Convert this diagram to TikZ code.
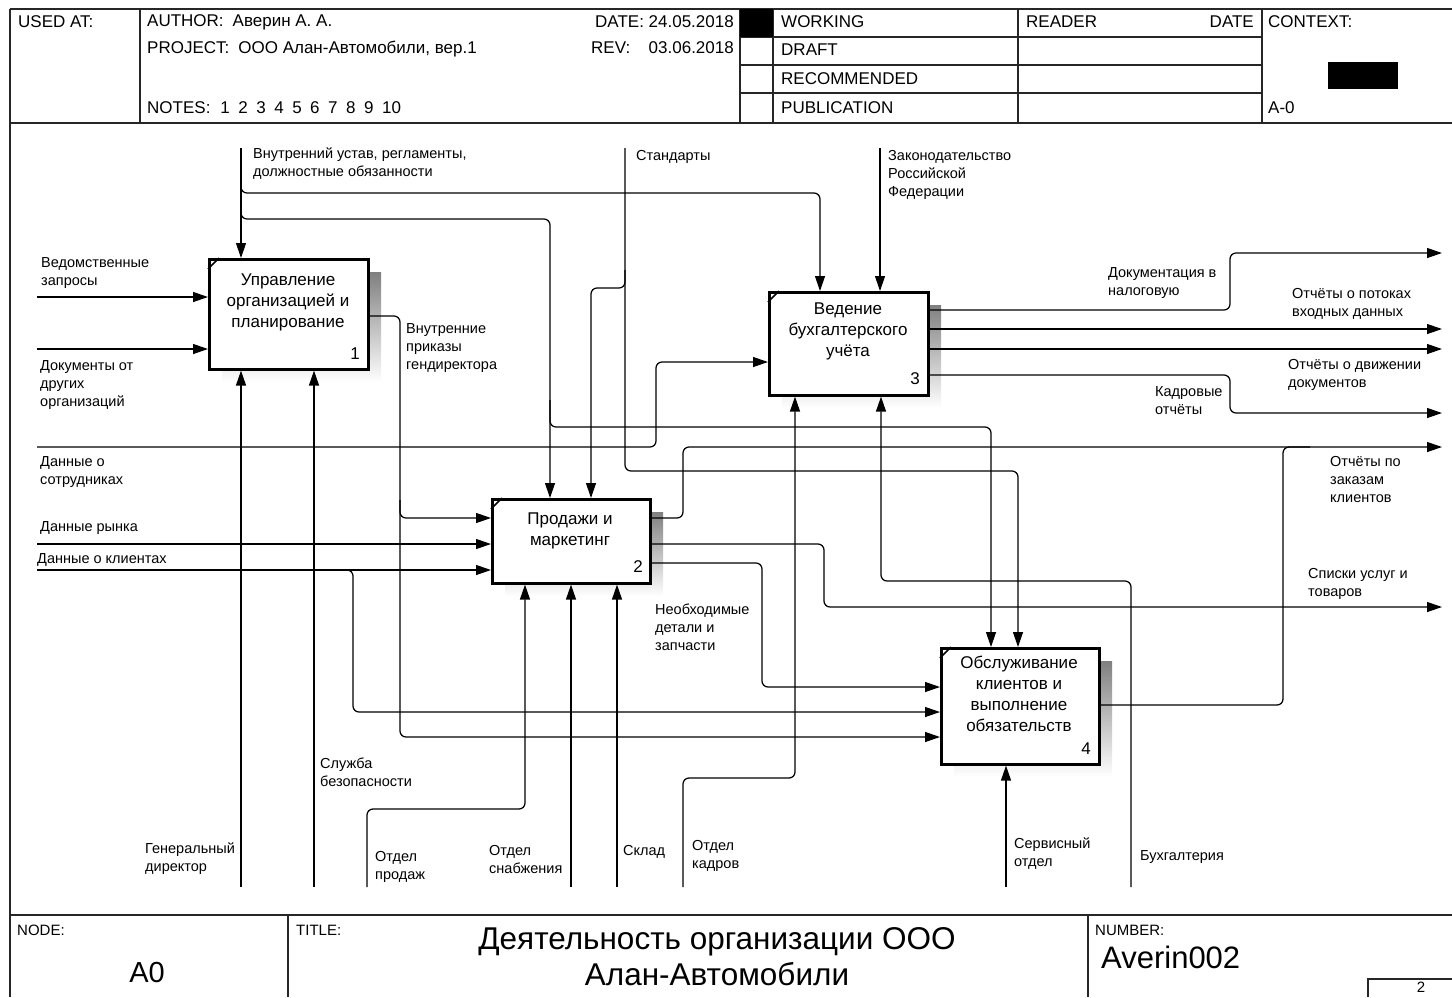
\documentclass[tikz,border=0pt]{standalone}
\usepackage{fontspec}
\setmainfont{Liberation Sans}
\usetikzlibrary{arrows.meta}
\definecolor{shade}{RGB}{206,203,195}
\begin{document}
\begin{tikzpicture}[x=1pt,y=-1pt,
  frame/.style={line width=1.8pt, draw=black!85},
  box/.style={draw, line width=2.6pt, fill=white, anchor=north west, inner sep=0pt},
  ln/.style={line width=1.25pt, rounded corners=6pt},
  arr/.style={ln, -{Triangle[length=15pt,width=10pt]}},
  lbl/.style={font=\fontsize{14.5}{18}\selectfont, align=left, inner sep=0pt, anchor=north west},
  btxt/.style={font=\fontsize{17}{21}\selectfont, align=center, inner sep=0pt, anchor=north},
  bnum/.style={font=\fontsize{17}{19}\selectfont, inner sep=0pt},
  hdr/.style={font=\fontsize{17}{20}\selectfont, inner sep=0pt, anchor=west},
  small/.style={font=\fontsize{15}{18}\selectfont, inner sep=0pt, anchor=west},
]
\useasboundingbox (0,0) rectangle (1452,997);

% ---------- frame ----------
\draw[frame] (10,9) -- (1452,9);
\draw[frame] (10,9) -- (10,997);
\draw[frame] (10,123) -- (1452,123);
\draw[frame] (140,9) -- (140,123);
\draw[frame] (740,9) -- (740,123);
\draw[frame] (773,9) -- (773,123);
\draw[frame] (1018,9) -- (1018,123);
\draw[frame] (1262,9) -- (1262,123);
\draw[frame] (740,37) -- (1262,37);
\draw[frame] (740,65) -- (1262,65);
\draw[frame] (740,93) -- (1262,93);
\fill (740,9) rectangle (773,37);
\fill (1328,62) rectangle (1398,89);

\node[hdr] (h1) at (18,22) {USED AT:};
\node[hdr] (h2) at (147,22) {AUTHOR:\hspace{9pt}Аверин А. А.};
\node[hdr] (h3) at (147,49) {PROJECT:\hspace{9pt}ООО Алан-Автомобили, вер.1};
\node[hdr] (h4) at (147,108) {NOTES:\hspace{10pt}1\hspace{8.5pt}2\hspace{8.5pt}3\hspace{8.5pt}4\hspace{8.5pt}5\hspace{8.5pt}6\hspace{8.5pt}7\hspace{8.5pt}8\hspace{8.5pt}9\hspace{8.5pt}10};
\node[hdr, anchor=east] (h5) at (734,22) {DATE: 24.05.2018};
\node[hdr] (h6) at (591,48) {REV:};
\node[hdr, anchor=east] (h7) at (734,48) {03.06.2018};
\node[hdr] (h8) at (781,22) {WORKING};
\node[hdr] (h9) at (781,50) {DRAFT};
\node[hdr] (h10) at (781,79) {RECOMMENDED};
\node[hdr] (h11) at (781,108) {PUBLICATION};
\node[hdr] (h12) at (1026,22) {READER};
\node[hdr, anchor=east] (h13) at (1254,22) {DATE};
\node[hdr] (h14) at (1268,22) {CONTEXT:};
\node[hdr] (h15) at (1268,108) {A-0};

\draw[frame] (10,915) -- (1452,915);
\draw[frame] (288,915) -- (288,997);
\draw[frame] (1088,915) -- (1088,997);
\draw[frame] (1368,997) -- (1368,979) -- (1452,979);
\node[small] (f1) at (17,930) {NODE:};
\node[small] (f2) at (296,930) {TITLE:};
\node[small] (f3) at (1095,930) {NUMBER:};
\node[font=\fontsize{29}{32}\selectfont, inner sep=0pt] (f4) at (147,973) {A0};
\node[font=\fontsize{31.5}{36}\selectfont, align=center, inner sep=0pt] (f5) at (717,957) {Деятельность организации ООО\\Алан-Автомобили};
\node[font=\fontsize{31}{34}\selectfont, inner sep=0pt, anchor=west] (f6) at (1101,957) {Averin002};
\node[small, anchor=center] (f7) at (1421,987) {2};

% ---------- boxes ----------
\fill[shade] (222,272) rectangle (381,382);
\fill[shade] (505,512) rectangle (663,596);
\fill[shade] (782,305) rectangle (941,408);
\fill[shade] (954,661) rectangle (1112,777);
\node[box, minimum width=159pt, minimum height=110pt] (b1) at (208,258) {};
\node[box, minimum width=158pt, minimum height=84pt] (b2) at (491,498) {};
\node[box, minimum width=159pt, minimum height=103pt] (b3) at (768,291) {};
\node[box, minimum width=158pt, minimum height=116pt] (b4) at (940,647) {};
\foreach \b in {b1,b2,b3,b4}{
  \draw[line width=1.6pt] ([yshift=-11pt]\b.north west) -- ([xshift=11pt]\b.north west);
}
\node[btxt] (bt1) at (288,274) {Управление\\организацией и\\планирование};
\node[btxt] (bt2) at (570,513) {Продажи и\\маркетинг};
\node[btxt] (bt3) at (848,303) {Ведение\\бухгалтерского\\учёта};
\node[btxt] (bt4) at (1019,656) {Обслуживание\\клиентов и\\выполнение\\обязательств};
\node[bnum] (n1) at (355,354) {1};
\node[bnum] (n2) at (638,567) {2};
\node[bnum] (n3) at (915,379) {3};
\node[bnum] (n4) at (1086,749) {4};

% ---------- free ends ----------
\coordinate (s1) at (241,148);
\coordinate (s2) at (625,148);
\coordinate (s3) at (880,148);
\coordinate (i1) at (37,297);
\coordinate (i2) at (37,349);
\coordinate (i3) at (37,447);
\coordinate (i4) at (37,544);
\coordinate (i5) at (37,570);
\coordinate (m1) at (241,887);
\coordinate (m2) at (314,887);
\coordinate (m3) at (367,887);
\coordinate (m4) at (571,887);
\coordinate (m5) at (617,887);
\coordinate (m6) at (683,887);
\coordinate (m7) at (1006,887);
\coordinate (m8) at (1131,887);
\coordinate (o1) at (1442,253);
\coordinate (o2) at (1442,329);
\coordinate (o3) at (1442,349);
\coordinate (o4) at (1442,413);
\coordinate (o5) at (1442,447);
\coordinate (o6) at (1442,607);

% ---------- connectors ----------
\draw[arr] (s1) -- (s1 |- b1.north);
\draw[arr] (241,180) -- (241,193) -- (820,193) -- (820,0 |- b3.north);
\draw[arr] (241,205) -- (241,219) -- (550,219) -- (550,0 |- b2.north);
\draw[arr] (550,400) -- (550,427) -- (991,427) -- (991,0 |- b4.north);
\draw[arr] (s2) -- (625,471) -- (1018,471) -- (1018,0 |- b4.north);
\draw[arr] (625,270) -- (625,288) -- (591,288) -- (591,0 |- b2.north);
\draw[arr] (s3) -- (s3 |- b3.north);

\draw[arr] (i1) -- (i1 -| b1.west);
\draw[arr] (i2) -- (i2 -| b1.west);
\draw[arr] (b1.east |- 0,316) -- (400,316) -- (400,518) -- (b2.west |- 0,518);
\draw[arr] (400,500) -- (400,737) -- (b4.west |- 0,737);
\draw[arr] (i3) -- (656,447) -- (656,362) -- (b3.west |- 0,362);
\draw[arr] (i4) -- (i4 -| b2.west);
\draw[arr] (i5) -- (i5 -| b2.west);
\draw[arr] (335,570) -- (353,570) -- (353,712) -- (b4.west |- 0,712);

\draw[arr] (b2.east |- 0,518) -- (683,518) -- (683,447) -- (o5);
\draw[arr] (b2.east |- 0,544) -- (824,544) -- (824,607) -- (o6);
\draw[arr] (b2.east |- 0,563) -- (762,563) -- (762,687) -- (b4.west |- 0,687);

\draw[arr] (b3.east |- 0,310) -- (1230,310) -- (1230,253) -- (o1);
\draw[arr] (b3.east |- 0,329) -- (o2);
\draw[arr] (b3.east |- 0,349) -- (o3);
\draw[arr] (b3.east |- 0,375) -- (1230,375) -- (1230,413) -- (o4);
\draw[ln] (b4.east |- 0,705) -- (1283,705) -- (1283,447) -- (1310,447);

\draw[arr] (m1) -- (m1 |- b1.south);
\draw[arr] (m2) -- (m2 |- b1.south);
\draw[arr] (m3) -- (367,809) -- (525,809) -- (525,0 |- b2.south);
\draw[arr] (m4) -- (m4 |- b2.south);
\draw[arr] (m5) -- (m5 |- b2.south);
\draw[arr] (m6) -- (683,778) -- (795,778) -- (795,0 |- b3.south);
\draw[arr] (m8) -- (1131,581) -- (881,581) -- (881,0 |- b3.south);
\draw[arr] (m7) -- (m7 |- b4.south);

% ---------- labels ----------
\node[lbl] (t1) at (253,147.5) {Внутренний устав, регламенты,\\должностные обязанности};
\node[lbl] (t2) at (636,150.5) {Стандарты};
\node[lbl] (t3) at (888,150.5) {Законодательство\\Российской\\Федерации};
\node[lbl] (t4) at (41,257) {Ведомственные\\запросы};
\node[lbl] (t5) at (40,360) {Документы от\\других\\организаций};
\node[lbl] (t6) at (406,323.5) {Внутренние\\приказы\\гендиректора};
\node[lbl] (t7) at (1108,267) {Документация в\\налоговую};
\node[lbl] (t8) at (1292,288) {Отчёты о потоках\\входных данных};
\node[lbl] (t9) at (1288,359.5) {Отчёты о движении\\документов};
\node[lbl] (t10) at (1155,386.5) {Кадровые\\отчёты};
\node[lbl] (t11) at (40,456) {Данные о\\сотрудниках};
\node[lbl] (t12) at (1330,456) {Отчёты по\\заказам\\клиентов};
\node[lbl] (t13) at (40,521) {Данные рынка};
\node[lbl] (t14) at (37,553) {Данные о клиентах};
\node[lbl] (t15) at (1308,568) {Списки услуг и\\товаров};
\node[lbl] (t16) at (655,603.5) {Необходимые\\детали и\\запчасти};
\node[lbl] (t17) at (320,757.5) {Служба\\безопасности};
\node[lbl] (t18) at (145,842.5) {Генеральный\\директор};
\node[lbl] (t19) at (375,851.5) {Отдел\\продаж};
\node[lbl] (t20) at (489,845.5) {Отдел\\снабжения};
\node[lbl] (t21) at (623,845.5) {Склад};
\node[lbl] (t22) at (692,840.5) {Отдел\\кадров};
\node[lbl] (t23) at (1014,837.5) {Сервисный\\отдел};
\node[lbl] (t24) at (1140,850.5) {Бухгалтерия};
\end{tikzpicture}
\end{document}
